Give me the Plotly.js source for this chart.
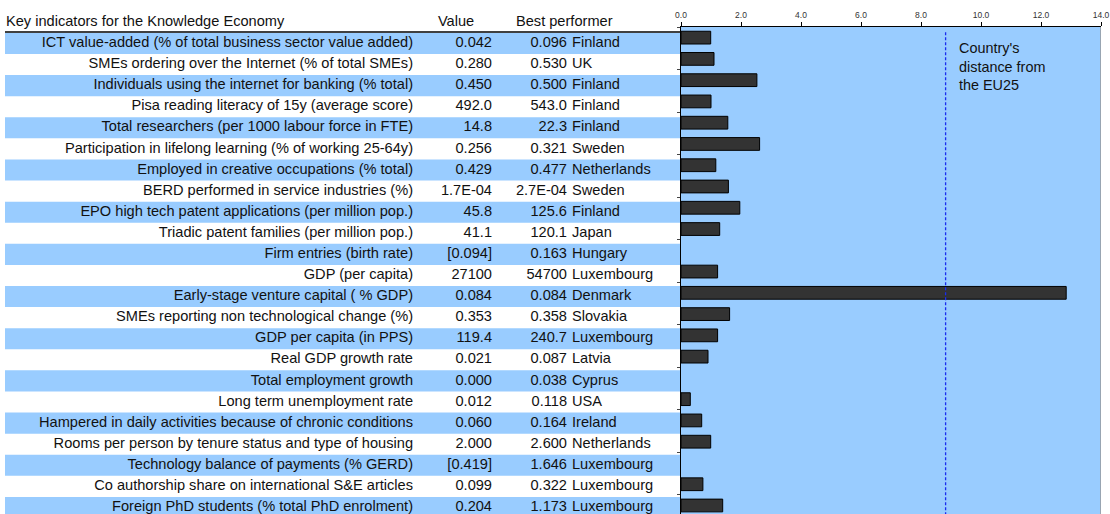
<!DOCTYPE html>
<html>
<head>
<meta charset="utf-8">
<script src="https://cdn.plot.ly/plotly-3.0.1.min.js"></script>
<style>html,body{margin:0;padding:0;background:#fff;}#chart{width:1110px;height:514px;}</style>
</head>
<body>
<div id="chart"></div>
<script>
const indicators = [
  "ICT value-added (% of total business sector value added)",
  "SMEs ordering over the Internet (% of total SMEs)",
  "Individuals using the internet for banking (% total)",
  "Pisa reading literacy of 15y (average score)",
  "Total researchers (per 1000 labour force in FTE)",
  "Participation in lifelong learning (% of working 25-64y)",
  "Employed in creative occupations (% total)",
  "BERD performed in service industries (%)",
  "EPO high tech patent applications (per million pop.)",
  "Triadic patent families (per million pop.)",
  "Firm entries (birth rate)",
  "GDP (per capita)",
  "Early-stage venture capital ( % GDP)",
  "SMEs reporting non technological change (%)",
  "GDP per capita (in PPS)",
  "Real GDP growth rate",
  "Total employment growth",
  "Long term unemployment rate",
  "Hampered in daily activities because of chronic conditions",
  "Rooms per person by tenure status and type of housing",
  "Technology balance of payments (% GERD)",
  "Co authorship share on international S&E articles",
  "Foreign PhD students (% total PhD enrolment)"
];
const countryValues = ["0.042","0.280","0.450","492.0","14.8","0.256","0.429","1.7E-04","45.8","41.1","[0.094]","27100","0.084","0.353","119.4","0.021","0.000","0.012","0.060","2.000","[0.419]","0.099","0.204"];
const bestValues = ["0.096","0.530","0.500","543.0","22.3","0.321","0.477","2.7E-04","125.6","120.1","0.163","54700","0.084","0.358","240.7","0.087","0.038","0.118","0.164","2.600","1.646","0.322","1.173"];
const bestCountries = ["Finland","UK","Finland","Finland","Finland","Sweden","Netherlands","Sweden","Finland","Japan","Hungary","Luxembourg","Denmark","Slovakia","Luxembourg","Latvia","Cyprus","USA","Ireland","Netherlands","Luxembourg","Luxembourg","Luxembourg"];
const distance = [0.99,1.10,2.53,1.00,1.56,2.62,1.16,1.58,1.96,1.29,null,1.22,12.84,1.62,1.22,0.90,null,0.31,0.69,0.99,null,0.73,1.39];
const eu25Line = 8.82;
const headers = ["Key indicators for the Knowledge Economy","Value","Best performer"];
const xTicks = [0,2,4,6,8,10,12,14];

const rows = indicators.map((_, i) => i);
const bandRows = rows.filter(i => i % 2 === 0);
const FONT = "Liberation Sans, Arial, sans-serif";
const TXT = {family: FONT, size: 14.6, color: "#111"};

const traces = [
  {type: "bar", orientation: "h", xaxis: "x2", yaxis: "y2",
   y: bandRows, x: bandRows.map(() => 675), base: bandRows.map(() => 5), width: 1,
   marker: {color: "#99CCFF", line: {width: 0}}, hoverinfo: "skip", showlegend: false},
  {type: "scatter", mode: "text", xaxis: "x2", yaxis: "y2", x: rows.map(() => 413), y: rows,
   text: indicators, textposition: "middle left", textfont: TXT, hoverinfo: "skip", showlegend: false, cliponaxis: false},
  {type: "scatter", mode: "text", xaxis: "x2", yaxis: "y2", x: rows.map(() => 492), y: rows,
   text: countryValues, textposition: "middle left", textfont: TXT, hoverinfo: "skip", showlegend: false, cliponaxis: false},
  {type: "scatter", mode: "text", xaxis: "x2", yaxis: "y2", x: rows.map(() => 567), y: rows,
   text: bestValues, textposition: "middle left", textfont: TXT, hoverinfo: "skip", showlegend: false, cliponaxis: false},
  {type: "scatter", mode: "text", xaxis: "x2", yaxis: "y2", x: rows.map(() => 572), y: rows,
   text: bestCountries, textposition: "middle right", textfont: TXT, hoverinfo: "skip", showlegend: false, cliponaxis: false},
  {type: "scatter", mode: "text", xaxis: "x2", yaxis: "y2", x: [6, 456, 516], y: [-1, -1, -1],
   text: headers, textposition: ["middle right", "middle center", "middle right"], textfont: TXT,
   hoverinfo: "skip", showlegend: false, cliponaxis: false},
  {type: "bar", orientation: "h", x: distance, y: rows, width: 0.6,
   marker: {color: "#333333", line: {color: "#000", width: 1}}, showlegend: false}
];

const layout = {
  width: 1110, height: 514,
  margin: {l: 0, r: 0, t: 0, b: 0, pad: 0},
  paper_bgcolor: "#fff",
  plot_bgcolor: "rgba(0,0,0,0)",
  showlegend: false,
  xaxis: {domain: [681/1110, 1101/1110], range: [0, 14], side: "top", tickvals: xTicks,
          tickformat: ".1f", ticks: "outside", ticklen: 4, tickcolor: "#000",
          showline: true, linecolor: "#000", linewidth: 1.5, showgrid: false, zeroline: false,
          tickfont: {family: FONT, size: 8.5, color: "#333"}, fixedrange: true},
  yaxis: {domain: [0, 487/514], range: [22.4, -0.5], showticklabels: false, tick0: 0.5, dtick: 1,
          ticks: "outside", ticklen: 3, tickcolor: "#444", showline: true, linecolor: "#000", linewidth: 1.5,
          showgrid: false, zeroline: false, fixedrange: true},
  xaxis2: {domain: [0, 680/1110], range: [0, 680], visible: false, anchor: "y2", fixedrange: true},
  yaxis2: {domain: [0, 1], range: [22.31, -2.06], visible: false, anchor: "x2", fixedrange: true},
  shapes: [
    {type: "rect", xref: "x domain", yref: "y domain", x0: 0, x1: 1, y0: 0, y1: 1, layer: "below",
     fillcolor: "#99CCFF", line: {width: 0}},
    {type: "line", xref: "x2", yref: "y2", x0: 5, x1: 680, y0: -0.545, y1: -0.545, line: {color: "#000", width: 1.5}},
    {type: "line", xref: "x", yref: "y", x0: eu25Line, x1: eu25Line, y0: -0.25, y1: 22.4,
     line: {color: "#1A2BF0", width: 1.3, dash: "3px,2px"}},
    {type: "line", xref: "x", yref: "paper", x0: 14, x1: 14, y0: 0, y1: 487/514, line: {color: "#999", width: 1.5}}
  ],
  annotations: [
    {xref: "x", yref: "y", x: 9.2, y: 1.38, xanchor: "left", yanchor: "middle", align: "left", showarrow: false,
     text: "Country's<br>distance from<br>the EU25", font: {family: FONT, size: 14.4, color: "#111"}}
  ]
};

Plotly.newPlot("chart", traces, layout, {displayModeBar: false, staticPlot: true});
</script>
</body>
</html>
